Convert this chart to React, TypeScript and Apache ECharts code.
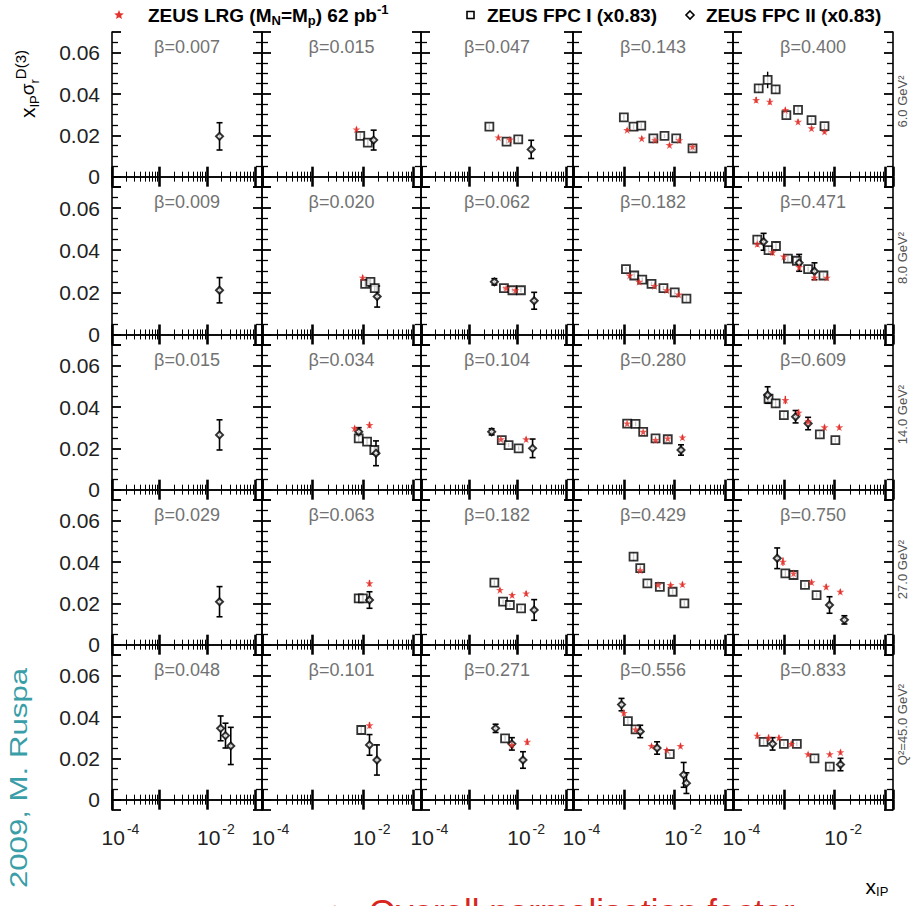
import React, { useEffect, useRef } from 'react';
import * as echarts from 'echarts';

const FONT = '"Liberation Sans", Arial, Helvetica, sans-serif';

// panel frame (pixels)
const COL_L = [112, 262, 421, 573, 733];
const COL_R = [262, 421, 573, 733, 893];
const ROW_T = [32, 187, 345, 500, 655];
const ROW_B = [187, 345, 500, 655, 810];

const X_MIN = 1e-4;
const X_MAX = 0.14;
const Y_MIN = -0.005;
const Y_MAX = 0.07;

// beta labels per Q2 row
const betaQ6 = [0.007, 0.015, 0.047, 0.143, 0.4];
const betaQ8 = [0.009, 0.02, 0.062, 0.182, 0.471];
const betaQ14 = [0.015, 0.034, 0.104, 0.28, 0.609];
const betaQ27 = [0.029, 0.063, 0.182, 0.429, 0.75];
const betaQ45 = [0.048, 0.101, 0.271, 0.556, 0.833];
const q2Labels = ['6.0 GeV²', '8.0 GeV²', '14.0 GeV²', '27.0 GeV²', 'Q²=45.0 GeV²'];

// points: [x_IP, x_IP*sigma_r^D(3), error]; one list per beta column
const lrgQ6 = [
  [],
  [[0.0074, 0.0229, 0.0012]],
  [[0.004, 0.019, 0.001], [0.0069, 0.018, 0.001]],
  [[0.00116, 0.0226, 0.001], [0.00225, 0.0185, 0.001], [0.0041, 0.0177, 0.001], [0.0079, 0.0153, 0.001], [0.0123, 0.0177, 0.001], [0.0224, 0.0145, 0.0012]],
  [[0.000285, 0.0371, 0.0015], [0.00053, 0.0363, 0.0015], [0.00107, 0.0323, 0.0012], [0.0019, 0.0266, 0.0012], [0.0035, 0.0234, 0.001], [0.0063, 0.0218, 0.001]],
];
const fpc1Q6 = [
  [],
  [[0.0088, 0.0197, 0.0015], [0.0124, 0.0165, 0.0015]],
  [[0.0026, 0.0242, 0.0012], [0.0059, 0.017, 0.0012], [0.0103, 0.018, 0.0012]],
  [[0.001, 0.0287, 0.0012], [0.00155, 0.0242, 0.0012], [0.0022, 0.0247, 0.0012], [0.0038, 0.0185, 0.001], [0.0063, 0.0197, 0.001], [0.0107, 0.0185, 0.001], [0.0224, 0.0137, 0.0015]],
  [[0.00032, 0.0427, 0.002], [0.00048, 0.0468, 0.004], [0.00069, 0.0422, 0.002], [0.00112, 0.0298, 0.0015], [0.0019, 0.0323, 0.0015], [0.0035, 0.0274, 0.0012], [0.0063, 0.0245, 0.0012]],
];
const fpc2Q6 = [
  [[0.018, 0.0195, 0.0066]],
  [[0.0162, 0.0177, 0.0048]],
  [[0.0191, 0.0132, 0.0044]],
  [],
  [],
];

const lrgQ8 = [
  [],
  [[0.0098, 0.027, 0.0012]],
  [[0.0058, 0.022, 0.001], [0.009, 0.021, 0.001]],
  [[0.0013, 0.028, 0.001], [0.002, 0.025, 0.001], [0.004, 0.023, 0.001], [0.007, 0.021, 0.001], [0.012, 0.019, 0.001]],
  [[0.0003, 0.043, 0.0015], [0.0006, 0.039, 0.0015], [0.001, 0.037, 0.0012], [0.002, 0.032, 0.0012], [0.004, 0.027, 0.001], [0.007, 0.027, 0.001]],
];
const fpc1Q8 = [
  [],
  [[0.011, 0.024, 0.0015], [0.014, 0.025, 0.0015], [0.017, 0.022, 0.0015]],
  [[0.0052, 0.022, 0.001], [0.0078, 0.021, 0.001], [0.0117, 0.021, 0.001]],
  [[0.0011, 0.031, 0.001], [0.0016, 0.028, 0.001], [0.0023, 0.026, 0.001], [0.0035, 0.024, 0.001], [0.006, 0.022, 0.001], [0.01, 0.02, 0.001], [0.017, 0.017, 0.0015]],
  [[0.0003, 0.045, 0.002], [0.0005, 0.04, 0.002], [0.0007, 0.042, 0.002], [0.0012, 0.036, 0.0015], [0.0018, 0.035, 0.0015], [0.003, 0.031, 0.0012], [0.006, 0.028, 0.0012]],
];
const fpc2Q8 = [
  [[0.018, 0.021, 0.006]],
  [[0.019, 0.018, 0.005]],
  [[0.0033, 0.025, 0.0015], [0.022, 0.016, 0.004]],
  [],
  [[0.0004, 0.044, 0.004], [0.002, 0.034, 0.004], [0.004, 0.03, 0.004]],
];

const lrgQ14 = [
  [],
  [[0.0068, 0.0297, 0.0012], [0.0134, 0.0313, 0.0015]],
  [[0.0045, 0.0244, 0.001], [0.015, 0.0244, 0.0012]],
  [[0.00116, 0.0321, 0.0012], [0.0024, 0.028, 0.001], [0.0042, 0.024, 0.001], [0.0073, 0.0248, 0.001], [0.0142, 0.0253, 0.0012]],
  [[0.00107, 0.0434, 0.002], [0.00195, 0.0373, 0.0015], [0.003, 0.033, 0.0015], [0.0063, 0.0302, 0.0012], [0.0123, 0.0302, 0.0012]],
];
const fpc1Q14 = [
  [],
  [[0.0082, 0.0248, 0.0015], [0.012, 0.0232, 0.0015], [0.0167, 0.0192, 0.0015]],
  [[0.0047, 0.024, 0.001], [0.0065, 0.0216, 0.001], [0.0105, 0.02, 0.001]],
  [[0.00116, 0.032, 0.0012], [0.0017, 0.0318, 0.0012], [0.0024, 0.028, 0.001], [0.0042, 0.0248, 0.001], [0.0073, 0.0244, 0.001]],
  [[0.0005, 0.044, 0.002], [0.00069, 0.0418, 0.002], [0.001, 0.0361, 0.0015], [0.0051, 0.0268, 0.0012], [0.0103, 0.024, 0.0012]],
];
const fpc2Q14 = [
  [[0.018, 0.0265, 0.0073]],
  [[0.0082, 0.028, 0.002], [0.018, 0.0176, 0.006]],
  [[0.0029, 0.028, 0.0015], [0.0204, 0.02, 0.0045]],
  [[0.0133, 0.0192, 0.0025]],
  [[0.00048, 0.0458, 0.004], [0.0017, 0.0353, 0.003], [0.003, 0.032, 0.003]],
];

const lrgQ27 = [
  [],
  [[0.0134, 0.0297, 0.0015]],
  [[0.0043, 0.0265, 0.001], [0.0077, 0.024, 0.001], [0.015, 0.0248, 0.0012]],
  [[0.0021, 0.036, 0.0012], [0.0047, 0.029, 0.001], [0.0083, 0.0289, 0.001], [0.0142, 0.0292, 0.0012]],
  [[0.00096, 0.0402, 0.002], [0.00155, 0.0345, 0.0015], [0.0035, 0.0302, 0.0012], [0.0068, 0.028, 0.0012], [0.0129, 0.0256, 0.0012]],
];
const fpc1Q27 = [
  [],
  [[0.0082, 0.0224, 0.0015], [0.0099, 0.0224, 0.0015]],
  [[0.0033, 0.03, 0.0012], [0.005, 0.0208, 0.001], [0.0069, 0.0192, 0.001], [0.0118, 0.0176, 0.001]],
  [[0.00155, 0.0426, 0.002], [0.0021, 0.037, 0.0015], [0.0029, 0.0297, 0.0012], [0.0051, 0.028, 0.0012], [0.0091, 0.0256, 0.0012], [0.0155, 0.02, 0.0012]],
  [[0.00107, 0.0345, 0.0015], [0.00155, 0.0337, 0.0015], [0.0026, 0.0289, 0.0012], [0.0044, 0.024, 0.0012]],
];
const fpc2Q27 = [
  [[0.018, 0.0208, 0.0073]],
  [[0.0134, 0.0216, 0.004]],
  [[0.022, 0.0168, 0.005]],
  [],
  [[0.00074, 0.0418, 0.005], [0.0079, 0.0192, 0.004], [0.0155, 0.012, 0.002]],
];

const lrgQ45 = [
  [],
  [[0.0134, 0.036, 0.0015]],
  [[0.0076, 0.0265, 0.0012], [0.0158, 0.028, 0.0015]],
  [[0.001, 0.042, 0.0015], [0.0017, 0.034, 0.0012], [0.0035, 0.026, 0.001], [0.007, 0.024, 0.001], [0.013, 0.026, 0.0012]],
  [[0.0003, 0.031, 0.0015], [0.0005, 0.03, 0.0015], [0.0008, 0.03, 0.0012], [0.0014, 0.027, 0.0012], [0.003, 0.022, 0.001], [0.008, 0.022, 0.001], [0.013, 0.023, 0.0012]],
];
const fpc1Q45 = [
  [],
  [[0.0092, 0.0337, 0.0015]],
  [[0.0055, 0.0297, 0.0012]],
  [[0.0012, 0.038, 0.0015], [0.0017, 0.034, 0.0012], [0.008, 0.022, 0.001]],
  [[0.0004, 0.028, 0.0015], [0.001, 0.027, 0.0012], [0.0018, 0.027, 0.0012], [0.004, 0.02, 0.001], [0.008, 0.016, 0.001]],
];
const fpc2Q45 = [
  [[0.019, 0.0345, 0.006], [0.024, 0.031, 0.006], [0.031, 0.026, 0.009]],
  [[0.0134, 0.0265, 0.005], [0.0188, 0.0192, 0.0073]],
  [[0.0035, 0.0345, 0.002], [0.0076, 0.027, 0.003], [0.0129, 0.0192, 0.004]],
  [[0.0009, 0.046, 0.003], [0.0021, 0.033, 0.003], [0.0045, 0.025, 0.003], [0.015, 0.012, 0.006], [0.017, 0.008, 0.005]],
  [[0.0006, 0.027, 0.003], [0.013, 0.017, 0.003]],
];

const betaRows = [betaQ6, betaQ8, betaQ14, betaQ27, betaQ45];
const lrgRows = [lrgQ6, lrgQ8, lrgQ14, lrgQ27, lrgQ45];
const fpc1Rows = [fpc1Q6, fpc1Q8, fpc1Q14, fpc1Q27, fpc1Q45];
const fpc2Rows = [fpc2Q6, fpc2Q8, fpc2Q14, fpc2Q27, fpc2Q45];

const RED = '#e3312b';
const STAR = 'path://M0,-1 L0.2245,-0.309 L0.951,-0.309 L0.363,0.118 L0.588,0.809 L0,0.382 L-0.588,0.809 L-0.363,0.118 L-0.951,-0.309 L-0.2245,-0.309 Z';

function starPoints(cx: number, cy: number, R: number) {
  const pts: number[][] = [];
  for (let i = 0; i < 10; i++) {
    const r = i % 2 === 0 ? R : R * 0.45;
    const a = -Math.PI / 2 + (i * Math.PI) / 5;
    pts.push([cx + r * Math.cos(a), cy + r * Math.sin(a)]);
  }
  return pts;
}

function xAxisDef(gridIndex: number, position: 'top' | 'bottom', labels: boolean) {
  return {
    gridIndex,
    type: 'log',
    logBase: 10,
    min: X_MIN,
    max: X_MAX,
    position,
    axisLine: { show: true, lineStyle: { color: '#000', width: 1.6 } },
    axisTick: { show: true, inside: true, length: 10, lineStyle: { color: '#000', width: 2.6 } },
    minorTick: { show: true, splitNumber: 9, length: 5, lineStyle: { color: '#000', width: 1 } },
    splitLine: { show: false },
    minorSplitLine: { show: false },
    axisLabel: {
      show: labels,
      margin: 12,
      showMaxLabel: false,
      formatter: (v: number) => {
        const e = Math.round(Math.log10(v));
        if (Math.abs(Math.log10(v) - e) > 1e-6) return '';
        if (e === -4 || e === -2) return `{b|10}{s|${e}}`;
        return '';
      },
      rich: {
        b: { fontSize: 21, fontFamily: FONT, color: '#222', verticalAlign: 'bottom', lineHeight: 26, padding: [0, 0, 0, 17] },
        s: { fontSize: 14, fontFamily: FONT, color: '#222', verticalAlign: 'top', lineHeight: 26, padding: [0, 0, 0, 2] },
      },
    },
  };
}

function yAxisDef(gridIndex: number, position: 'left' | 'right', labels: boolean) {
  return {
    gridIndex,
    type: 'value',
    min: Y_MIN,
    max: Y_MAX,
    splitNumber: 4,
    position,
    axisLine: { show: true, lineStyle: { color: '#000', width: 1.6 } },
    axisTick: { show: true, inside: true, length: 9, lineStyle: { color: '#000', width: 1.8 } },
    minorTick: { show: true, splitNumber: 4, length: 6, lineStyle: { color: '#000', width: 1.3 } },
    splitLine: { show: false },
    axisLabel: {
      show: labels,
      margin: 12,
      showMinLabel: false,
      showMaxLabel: false,
      fontSize: 21,
      fontFamily: FONT,
      color: '#222',
      formatter: (v: number) => (Math.abs(v) < 1e-9 ? '0' : v.toFixed(2)),
    },
  };
}

function errorSeries(pts: number[][], xi: number, yi: number, color: string, cap: number, width: number) {
  return {
    type: 'custom',
    xAxisIndex: xi,
    yAxisIndex: yi,
    silent: true,
    z: 2,
    data: pts.map((p) => [p[0], p[1] - p[2], p[1] + p[2]]),
    encode: { x: 0, y: [1, 2] },
    renderItem: (_params: any, api: any) => {
      const lo = api.coord([api.value(0), api.value(1)]);
      const hi = api.coord([api.value(0), api.value(2)]);
      const children: any[] = [
        { type: 'line', shape: { x1: lo[0], y1: lo[1], x2: hi[0], y2: hi[1] }, style: { stroke: color, lineWidth: width } },
      ];
      if (cap > 0) {
        children.push({ type: 'line', shape: { x1: lo[0] - cap, y1: lo[1], x2: lo[0] + cap, y2: lo[1] }, style: { stroke: color, lineWidth: width } });
        children.push({ type: 'line', shape: { x1: hi[0] - cap, y1: hi[1], x2: hi[0] + cap, y2: hi[1] }, style: { stroke: color, lineWidth: width } });
      }
      return { type: 'group', children };
    },
  };
}

function buildOption() {
  const grid: any[] = [];
  const xAxis: any[] = [];
  const yAxis: any[] = [];
  const series: any[] = [];
  const graphic: any[] = [];

  for (let r = 0; r < 5; r++) {
    for (let c = 0; c < 5; c++) {
      const g = grid.length;
      grid.push({ left: COL_L[c], top: ROW_T[r], width: COL_R[c] - COL_L[c], height: ROW_B[r] - ROW_T[r], containLabel: false });
      const xi = xAxis.length;
      xAxis.push(xAxisDef(g, 'bottom', r === 4));
      xAxis.push(xAxisDef(g, 'top', false));
      const yi = yAxis.length;
      yAxis.push(yAxisDef(g, 'left', c === 0));
      yAxis.push(yAxisDef(g, 'right', false));

      const lrg = lrgRows[r][c];
      const f1 = fpc1Rows[r][c];
      const f2 = fpc2Rows[r][c];
      if (f2.length) series.push(errorSeries(f2, xi, yi, '#000', 3, 1.6));
      if (f1.length) series.push(errorSeries(f1, xi, yi, '#000', 0, 1.4));
      if (lrg.length) series.push(errorSeries(lrg, xi, yi, RED, 0, 1.4));
      series.push({
        name: 'ZEUS FPC I (x0.83)', type: 'scatter', xAxisIndex: xi, yAxisIndex: yi, z: 3,
        symbol: 'rect', symbolSize: 8,
        itemStyle: { color: '#fff', borderColor: '#000', borderWidth: 1.8 },
        data: f1.map((p) => [p[0], p[1]]),
      });
      series.push({
        name: 'ZEUS FPC II (x0.83)', type: 'scatter', xAxisIndex: xi, yAxisIndex: yi, z: 4,
        symbol: 'emptyDiamond', symbolSize: 7,
        itemStyle: { color: '#000', borderColor: '#000', borderWidth: 1.5 },
        data: f2.map((p) => [p[0], p[1]]),
      });
      series.push({
        name: 'ZEUS LRG', type: 'scatter', xAxisIndex: xi, yAxisIndex: yi, z: 5,
        symbol: STAR, symbolSize: 8,
        itemStyle: { color: RED },
        data: lrg.map((p) => [p[0], p[1]]),
      });

      graphic.push({
        type: 'text',
        x: (COL_L[c] + COL_R[c]) / 2,
        y: ROW_T[r] + 15,
        z: 10,
        style: {
          text: 'β=' + betaRows[r][c].toFixed(3),
          fontSize: 18,
          fontFamily: FONT,
          fill: '#727272',
          align: 'center',
          verticalAlign: 'middle',
        },
      });
    }
    graphic.push({
      type: 'text',
      x: 902,
      y: (ROW_T[r] + ROW_B[r]) / 2 - 8,
      rotation: Math.PI / 2,
      style: {
        text: q2Labels[r],
        fontSize: 13,
        fontFamily: FONT,
        fill: '#555',
        align: 'center',
        verticalAlign: 'middle',
      },
    });
  }

  const legRich = {
    m: { fontSize: 19, fontWeight: 'bold', fontFamily: FONT, color: '#333', lineHeight: 24, verticalAlign: 'middle' },
    s: { fontSize: 13, fontWeight: 'bold', fontFamily: FONT, color: '#333', lineHeight: 24, verticalAlign: 'bottom' },
    p: { fontSize: 13, fontWeight: 'bold', fontFamily: FONT, color: '#333', lineHeight: 24, verticalAlign: 'top' },
  };
  graphic.push(
    { type: 'polygon', shape: { points: starPoints(119, 15, 5) }, style: { fill: RED } },
    { type: 'text', x: 148, y: 15, style: { text: '{m|ZEUS LRG (M}{s|N}{m|=M}{s|p}{m|) 62 pb}{p|-1}', rich: legRich, verticalAlign: 'middle' } },
    { type: 'rect', shape: { x: 467, y: 11.5, width: 7, height: 7 }, style: { fill: '#fff', stroke: '#000', lineWidth: 1.6 } },
    { type: 'text', x: 487, y: 15, style: { text: '{m|ZEUS FPC I (x0.83)}', rich: legRich, verticalAlign: 'middle' } },
    { type: 'polygon', shape: { points: [[690, 11], [694, 15], [690, 19], [686, 15]] }, style: { fill: '#fff', stroke: '#000', lineWidth: 1.6 } },
    { type: 'text', x: 706, y: 15, style: { text: '{m|ZEUS FPC II (x0.83)}', rich: legRich, verticalAlign: 'middle' } },
  );

  // y axis title
  graphic.push({
    type: 'text',
    x: 27,
    y: 84,
    rotation: Math.PI / 2,
    style: {
      text: '{m|x}{s|IP}{g|σ}{s|r}{p|D(3)}',
      align: 'center',
      verticalAlign: 'middle',
      rich: {
        m: { fontSize: 21, fontFamily: FONT, color: '#222', lineHeight: 28, verticalAlign: 'middle' },
        g: { fontSize: 19, fontFamily: FONT, color: '#222', lineHeight: 28, verticalAlign: 'middle' },
        s: { fontSize: 13, fontFamily: FONT, color: '#222', lineHeight: 28, verticalAlign: 'bottom' },
        p: { fontSize: 15, fontFamily: FONT, color: '#222', lineHeight: 28, verticalAlign: 'top' },
      },
    },
  });
  // x axis title
  graphic.push({
    type: 'text',
    x: 877,
    y: 886,
    style: {
      text: '{m|x}{s|IP}',
      align: 'center',
      verticalAlign: 'middle',
      rich: {
        m: { fontSize: 21, fontFamily: FONT, color: '#222', lineHeight: 24, verticalAlign: 'middle' },
        s: { fontSize: 13, fontFamily: FONT, color: '#222', lineHeight: 24, verticalAlign: 'bottom' },
      },
    },
  });
  // author stamp
  graphic.push({
    type: 'text',
    x: 19,
    y: 778,
    rotation: Math.PI / 2,
    scaleX: 1.3,
    style: { text: '2009, M. Ruspa', fontSize: 24, fontFamily: FONT, fill: '#3a9ea8', align: 'center', verticalAlign: 'middle' },
  });
  // slide text (cut off by the picture edge, as in the source)
  graphic.push({
    type: 'text',
    x: 330,
    y: 894,
    style: { text: '➢ Overall normalisation factor', fontSize: 35, fontFamily: FONT, fill: '#d8261e', align: 'left', verticalAlign: 'top' },
  });

  return { animation: false, backgroundColor: '#fff', grid, xAxis, yAxis, series, graphic };
}

export default function App() {
  const ref = useRef<HTMLDivElement>(null);
  useEffect(() => {
    if (!ref.current) return;
    const chart = echarts.init(ref.current, undefined, { renderer: 'svg' });
    chart.setOption(buildOption() as any);
    return () => chart.dispose();
  }, []);
  return <div ref={ref} style={{ position: 'absolute', left: 0, top: 0, width: 911, height: 906, overflow: 'hidden' }} />;
}
